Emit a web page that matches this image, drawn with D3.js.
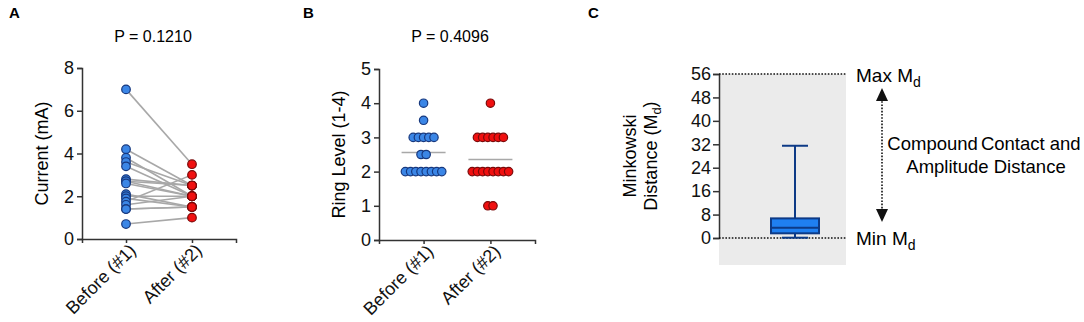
<!DOCTYPE html>
<html>
<head>
<meta charset="utf-8">
<script src="https://cdn.jsdelivr.net/npm/d3@7"></script>
<style>
  body { margin: 0; background: #fff; }
  svg { display: block; font-family: "Liberation Sans", Arial, sans-serif; }
</style>
</head>
<body>
<svg id="fig" width="1084" height="322"></svg>
<script>
// ---- data ----
const groups = ["Before (#1)", "After (#2)"];

// panel A: paired current values (mA)
const currentBefore = [7.0, 4.2, 3.8, 3.6, 3.4, 2.8, 2.7, 2.7, 2.6, 2.1, 2.0, 1.9, 1.75, 1.6, 1.4, 1.4, 0.7];
const currentAfter  = [3.5, 2.5, 2.0, 2.5, 2.0, 2.5, 2.0, 2.5, 2.0, 1.5, 2.0, 1.5, 3.0, 2.0, 1.5, 1.5, 1.0];
const pA = "P = 0.1210";

// panel B: ring level
const ringBefore = [4, 3.5, 3, 3, 3, 3, 3, 2.5, 2.5, 2, 2, 2, 2, 2, 2, 2, 2];
const ringAfter  = [4, 3, 3, 3, 3, 3, 3, 2, 2, 2, 2, 2, 2, 2, 2, 1, 1];
const pB = "P = 0.4096";

// panel C: Minkowski distance box (min, q1, median, q3, max)
const mdStats = [0.1, 1.6, 3.5, 6.7, 31.5];
const mdTicks = [0, 8, 16, 24, 32, 40, 48, 56];
const mdRange = [0, 56];

const blue = "#3b86e6", blueStroke = "#17387e";
const red = "#f01010", redStroke = "#7a0a0a";
const axisColor = "#333";

const svg = d3.select("#fig");

function styleAxis(g) {
  g.select(".domain").attr("stroke", axisColor).attr("stroke-width", 1.5);
  g.selectAll(".tick line").attr("stroke", axisColor).attr("stroke-width", 1.5);
  g.selectAll(".tick text").attr("fill", "#111").attr("font-size", 18)
    .attr("font-family", "Liberation Sans, Arial, sans-serif");
}

function catAxis(g, x, y0) {
  g.attr("transform", `translate(0,${y0})`)
    .call(d3.axisBottom(x).tickSizeOuter(0).tickSize(4))
    .call(styleAxis);
  g.selectAll(".tick text")
    .attr("text-anchor", "end")
    .attr("transform", "translate(6,8) rotate(-45)")
    .attr("dy", "0.35em").attr("y", 0).attr("x", 0);
}

// ---- panel A ----
const xA = d3.scalePoint().domain(groups).range([82, 236]).padding(0.667);
const yA = d3.scaleLinear().domain([0, 8]).range([239, 68]);

svg.append("text").attr("x", 9).attr("y", 18).attr("font-weight", "bold")
  .attr("font-size", 15).text("A");
svg.append("text").attr("x", 153).attr("y", 42).attr("text-anchor", "middle")
  .attr("font-size", 16).text(pA);

svg.append("g").attr("transform", "translate(82,0)")
  .call(d3.axisLeft(yA).ticks(4).tickSizeOuter(0).tickSize(5))
  .call(styleAxis);
svg.append("g").call(g => catAxis(g, xA, 239));
svg.append("text").attr("transform", `translate(48,${yA(4)}) rotate(-90)`)
  .attr("text-anchor", "middle").attr("font-size", 18).text("Current (mA)");

const pairs = currentBefore.map((b, i) => ({ b, a: currentAfter[i] }));
svg.append("g").selectAll("line").data(pairs).join("line")
  .attr("x1", xA(groups[0])).attr("x2", xA(groups[1]))
  .attr("y1", d => yA(d.b)).attr("y2", d => yA(d.a))
  .attr("stroke", "#a8a8a8").attr("stroke-width", 1.6);
svg.append("g").selectAll("circle").data(currentBefore).join("circle")
  .attr("cx", xA(groups[0])).attr("cy", d => yA(d)).attr("r", 4.3)
  .attr("fill", blue).attr("stroke", blueStroke).attr("stroke-width", 1.2);
svg.append("g").selectAll("circle").data(currentAfter).join("circle")
  .attr("cx", xA(groups[1])).attr("cy", d => yA(d)).attr("r", 4.3)
  .attr("fill", red).attr("stroke", redStroke).attr("stroke-width", 1.2);

// ---- panel B ----
const xB = d3.scalePoint().domain(groups).range([379, 535]).padding(0.667);
const yB = d3.scaleLinear().domain([0, 5]).range([240, 69]);

svg.append("text").attr("x", 303).attr("y", 18).attr("font-weight", "bold")
  .attr("font-size", 15).text("B");
svg.append("text").attr("x", 450).attr("y", 42).attr("text-anchor", "middle")
  .attr("font-size", 16).text(pB);

svg.append("g").attr("transform", "translate(379,0)")
  .call(d3.axisLeft(yB).ticks(5).tickSizeOuter(0).tickSize(5))
  .call(styleAxis);
svg.append("g").call(g => catAxis(g, xB, 240));
svg.append("text").attr("transform", `translate(345,${yB(2.5)}) rotate(-90)`)
  .attr("text-anchor", "middle").attr("font-size", 18).text("Ring Level (1-4)");

function swarm(values, cx) {
  const out = [];
  d3.group(values, v => v).forEach((arr, v) => {
    arr.forEach((_, i) => out.push({ v, x: cx + (i - (arr.length - 1) / 2) * 5.2 }));
  });
  return out;
}
[[ringBefore, groups[0], blue, blueStroke], [ringAfter, groups[1], red, redStroke]].forEach(([vals, g, fill, st]) => {
  const m = d3.mean(vals);
  svg.append("line").attr("x1", xB(g) - 22).attr("x2", xB(g) + 22)
    .attr("y1", yB(m)).attr("y2", yB(m))
    .attr("stroke", "#a8a8a8").attr("stroke-width", 1.6);
  svg.append("g").selectAll("circle").data(swarm(vals, xB(g))).join("circle")
    .attr("cx", d => d.x).attr("cy", d => yB(d.v)).attr("r", 4.2)
    .attr("fill", fill).attr("stroke", st).attr("stroke-width", 1.2);
});

// ---- panel C ----
const yC = d3.scaleLinear().domain(mdRange).range([238, 74]);
const cx = 795;

svg.append("text").attr("x", 588).attr("y", 18).attr("font-weight", "bold")
  .attr("font-size", 15).text("C");

svg.append("rect").attr("x", 719).attr("y", yC(56)).attr("width", 127)
  .attr("height", 265 - yC(56)).attr("fill", "#ebebeb");

svg.append("g").attr("transform", "translate(719,0)")
  .call(d3.axisLeft(yC).tickValues(mdTicks).tickSizeOuter(0).tickSize(6).tickPadding(2))
  .call(styleAxis);

const lbl = svg.append("text").attr("transform", `translate(640,${yC(28)}) rotate(-90)`)
  .attr("text-anchor", "middle").attr("font-size", 18);
lbl.append("tspan").attr("x", 0).attr("dy", "-0.25em").text("Minkowski");
const l2 = lbl.append("tspan").attr("x", 0).attr("dy", "1.2em").text("Distance (M");
l2.append("tspan").attr("font-size", 13).attr("dy", "0.3em").text("d");
l2.append("tspan").attr("dy", "-0.3em").text(")");

[mdRange[1], mdRange[0]].forEach(v => {
  svg.append("line").attr("x1", 719).attr("x2", 846).attr("y1", yC(v)).attr("y2", yC(v))
    .attr("stroke", "#111").attr("stroke-width", 1.6).attr("stroke-dasharray", "1.6,1.6");
});

// box and whiskers
const [mn, q1, med, q3, mx] = mdStats;
const navy = "#0d3a86";
svg.append("line").attr("x1", cx).attr("x2", cx).attr("y1", yC(mx)).attr("y2", yC(mn))
  .attr("stroke", navy).attr("stroke-width", 2);
[mx, mn].forEach(v => svg.append("line").attr("x1", cx - 13).attr("x2", cx + 13)
  .attr("y1", yC(v)).attr("y2", yC(v)).attr("stroke", navy).attr("stroke-width", 2));
svg.append("rect").attr("x", cx - 24).attr("y", yC(q3)).attr("width", 48)
  .attr("height", yC(q1) - yC(q3)).attr("fill", "#1f7ff0").attr("stroke", navy).attr("stroke-width", 2);
svg.append("line").attr("x1", cx - 24).attr("x2", cx + 24).attr("y1", yC(med)).attr("y2", yC(med))
  .attr("stroke", navy).attr("stroke-width", 2);

// Max / Min labels
function mdLabel(txt, y) {
  const t = svg.append("text").attr("x", 856).attr("y", y).attr("font-size", 19).text(txt + " M");
  t.append("tspan").attr("font-size", 14).attr("dy", 5).text("d");
}
mdLabel("Max", yC(56) + 8);
mdLabel("Min", yC(0) + 7);

// double arrow
const ax = 882;
svg.append("line").attr("x1", ax).attr("x2", ax).attr("y1", 98).attr("y2", 212)
  .attr("stroke", "#111").attr("stroke-width", 1.6).attr("stroke-dasharray", "1.6,1.6");
svg.append("path").attr("d", `M${ax},88 L${ax - 6},101 L${ax + 6},101 Z`).attr("fill", "#111");
svg.append("path").attr("d", `M${ax},222 L${ax - 6},209 L${ax + 6},209 Z`).attr("fill", "#111");

const note = svg.append("text").attr("x", 984).attr("text-anchor", "middle").attr("font-size", 18.5);
const n1 = note.append("tspan").attr("x", 984).attr("y", 150).text("Compound");
n1.append("tspan").attr("dx", 3).text("Contact and");
note.append("tspan").attr("x", 986).attr("y", 173).text("Amplitude Distance");
</script>
</body>
</html>
